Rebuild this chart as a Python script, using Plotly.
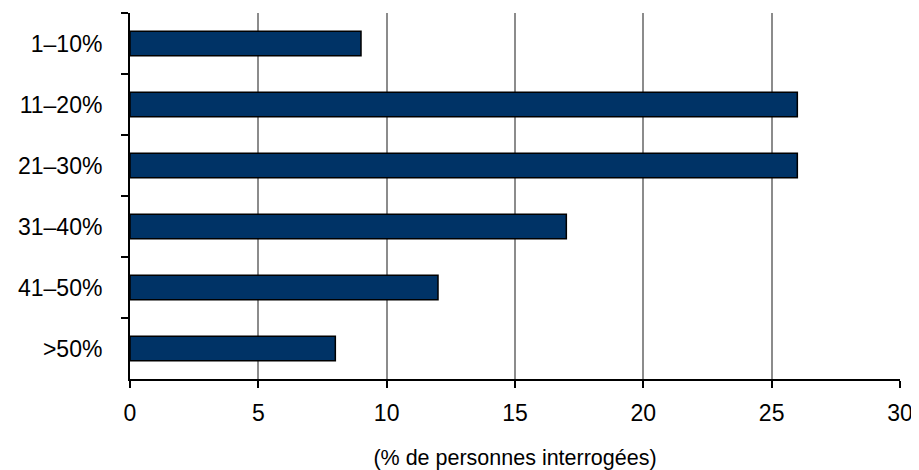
import plotly.graph_objects as go

categories = ["1–10%", "11–20%", "21–30%", "31–40%", "41–50%", ">50%"]
values = [9, 26, 26, 17, 12, 8]
x_ticks = [0, 5, 10, 15, 20, 25, 30]

fig = go.Figure(go.Bar(
    x=values, y=categories, orientation="h",
    marker=dict(color="#003366", line=dict(color="black", width=1.5)),
    width=0.4,
))

fig.update_layout(
    width=911, height=462,
    margin=dict(l=122, r=19, t=5, b=91),
    plot_bgcolor="white", paper_bgcolor="white",
    font=dict(family="Liberation Sans, Arial", size=23, color="black"),
    showlegend=False,
)
fig.update_xaxes(
    range=[0, 30], tickvals=x_ticks, ticks="outside", ticklen=7, tickwidth=2,
    tickcolor="black", showline=True, linecolor="black", linewidth=2,
    showgrid=True, gridcolor="#8c8c8c", gridwidth=1.5, zeroline=False,
    automargin=False, ticklabelstandoff=5,
    title=dict(text="(% de personnes interrogées)", font=dict(size=21.5), standoff=25),
)
fig.update_yaxes(
    type="category", categoryorder="array", categoryarray=categories,
    autorange="reversed", tickson="boundaries", ticks="outside", ticklen=7,
    tickwidth=2, tickcolor="black", showline=True, linecolor="black", linewidth=2,
    showgrid=False, ticklabelstandoff=21, automargin=False,
)

fig.write_html("out.html")
